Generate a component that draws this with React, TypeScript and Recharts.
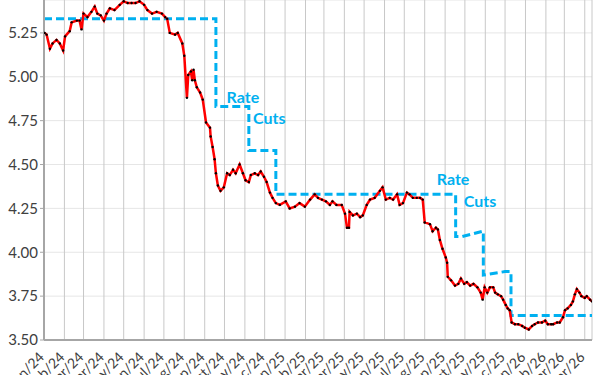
import React from 'react';
import { ComposedChart, Line, XAxis, YAxis, CartesianGrid, ReferenceDot } from 'recharts';

const START = Date.UTC(2024, 0, 1);
const toDay = (s: string) => (Date.parse(s + 'T00:00:00Z') - START) / 86400000;

const yieldDates = [
  '2024-01-02','2024-01-05','2024-01-10','2024-01-14','2024-01-20','2024-01-25','2024-01-30','2024-02-02','2024-02-09','2024-02-12',
  '2024-02-20','2024-02-24','2024-02-27','2024-03-01','2024-03-07','2024-03-13','2024-03-18','2024-03-22','2024-03-27','2024-04-01',
  '2024-04-05','2024-04-10','2024-04-17','2024-04-25','2024-05-01','2024-05-07','2024-05-13','2024-05-19','2024-05-25','2024-06-01',
  '2024-06-06','2024-06-13','2024-06-20','2024-06-28','2024-07-03','2024-07-06','2024-07-10','2024-07-18','2024-07-22','2024-07-29',
  '2024-08-01','2024-08-05','2024-08-07','2024-08-11','2024-08-13','2024-08-15','2024-08-17','2024-08-20','2024-08-25','2024-08-29',
  '2024-09-03','2024-09-09','2024-09-10','2024-09-13','2024-09-16','2024-09-18','2024-09-21','2024-09-25','2024-09-30','2024-10-05',
  '2024-10-09','2024-10-14','2024-10-18','2024-10-24','2024-10-29','2024-11-02','2024-11-07','2024-11-10','2024-11-16','2024-11-21',
  '2024-11-25','2024-11-30','2024-12-04','2024-12-09','2024-12-13','2024-12-18','2024-12-24','2025-01-02','2025-01-08','2025-01-16',
  '2025-01-23','2025-01-31','2025-02-08','2025-02-15','2025-02-20','2025-02-26','2025-03-04','2025-03-10','2025-03-14','2025-03-20',
  '2025-03-28','2025-04-02','2025-04-05','2025-04-08','2025-04-09','2025-04-14','2025-04-20','2025-04-25','2025-04-29','2025-05-05',
  '2025-05-10','2025-05-17','2025-05-25','2025-05-29','2025-06-03','2025-06-09','2025-06-14','2025-06-20','2025-06-24','2025-06-29',
  '2025-07-05','2025-07-09','2025-07-14','2025-07-20','2025-07-25','2025-07-29','2025-08-01','2025-08-09','2025-08-13','2025-08-18',
  '2025-08-21','2025-08-24','2025-08-28','2025-09-02','2025-09-04','2025-09-05','2025-09-10','2025-09-16','2025-09-21','2025-09-25',
  '2025-09-30','2025-10-04','2025-10-09','2025-10-14','2025-10-20','2025-10-25','2025-10-28','2025-10-31','2025-11-04','2025-11-08',
  '2025-11-13','2025-11-16','2025-11-20','2025-11-25','2025-11-28','2025-12-02','2025-12-05','2025-12-08','2025-12-11','2025-12-16',
  '2025-12-21','2025-12-27','2025-12-31','2026-01-06','2026-01-11','2026-01-15','2026-01-20','2026-01-26','2026-01-31','2026-02-04',
  '2026-02-09','2026-02-12','2026-02-18','2026-02-22','2026-02-27','2026-03-02','2026-03-06','2026-03-11','2026-03-14','2026-03-17',
  '2026-03-20','2026-03-24','2026-03-27','2026-04-01','2026-04-04','2026-04-09','2026-04-12',
];
const yieldValues = [
  5.25,5.24,5.16,5.19,5.21,5.19,5.15,5.23,5.26,5.31,
  5.32,5.32,5.27,5.36,5.34,5.37,5.40,5.36,5.35,5.32,
  5.36,5.39,5.38,5.41,5.43,5.42,5.42,5.42,5.43,5.41,
  5.38,5.36,5.37,5.36,5.34,5.33,5.25,5.24,5.25,5.19,
  5.12,4.88,5.01,5.03,4.98,5.04,4.98,4.94,4.91,4.87,
  4.74,4.71,4.66,4.60,4.53,4.45,4.38,4.35,4.37,4.45,
  4.44,4.47,4.45,4.50,4.45,4.41,4.40,4.44,4.45,4.44,
  4.46,4.43,4.40,4.34,4.31,4.28,4.27,4.29,4.25,4.26,
  4.28,4.26,4.30,4.33,4.31,4.30,4.29,4.27,4.29,4.27,
  4.27,4.22,4.14,4.14,4.23,4.21,4.22,4.20,4.21,4.27,
  4.30,4.31,4.35,4.37,4.30,4.31,4.30,4.33,4.27,4.28,
  4.34,4.33,4.31,4.31,4.31,4.30,4.17,4.16,4.12,4.14,
  4.13,4.07,4.02,3.97,3.94,3.86,3.84,3.81,3.82,3.85,
  3.82,3.83,3.81,3.82,3.80,3.77,3.73,3.80,3.77,3.80,
  3.80,3.77,3.76,3.75,3.73,3.70,3.68,3.67,3.60,3.59,
  3.59,3.58,3.57,3.56,3.58,3.59,3.60,3.60,3.61,3.59,
  3.59,3.59,3.60,3.60,3.63,3.67,3.68,3.70,3.72,3.76,
  3.79,3.77,3.75,3.74,3.75,3.73,3.72,
];

const rateDates = [
  '2024-01-01','2024-09-18','2024-09-18','2024-11-07','2024-11-07','2024-12-18','2024-12-18','2025-09-17',
  '2025-09-17','2025-09-27','2025-10-28','2025-10-29','2025-10-29','2025-12-01','2025-12-10','2025-12-10','2026-04-12',
];
const rateValues = [
  5.33,5.33,4.83,4.83,4.58,4.58,4.33,4.33,
  4.09,4.09,4.12,4.12,3.87,3.89,3.89,3.64,3.64,
];

const tickLabels = [
  'Jan/24','Feb/24','Mar/24','Apr/24','May/24','Jun/24','Jul/24','Aug/24','Sep/24','Oct/24','Nov/24','Dec/24',
  'Jan/25','Feb/25','Mar/25','Apr/25','May/25','Jun/25','Jul/25','Aug/25','Sep/25','Oct/25','Nov/25','Dec/25',
  'Jan/26','Feb/26','Mar/26','Apr/26',
];
const monthNames = ['Jan','Feb','Mar','Apr','May','Jun','Jul','Aug','Sep','Oct','Nov','Dec'];
const yTicks = [3.5, 3.75, 4.0, 4.25, 4.5, 4.75, 5.0, 5.25];

const annotations = [
  { text: 'Rate', date: '2024-10-29', value: 4.885 },
  { text: 'Cuts', date: '2024-12-08', value: 4.765 },
  { text: 'Rate', date: '2025-09-13', value: 4.417 },
  { text: 'Cuts', date: '2025-10-24', value: 4.292 },
];

const yieldData = yieldDates.map((d, i) => ({ day: toDay(d), v: yieldValues[i] }));
const rateData = rateDates.map((d, i) => ({ day: toDay(d), r: rateValues[i] }));
const tickDays = tickLabels.map((l) => {
  const [m, y] = l.split('/');
  return (Date.UTC(2000 + Number(y), monthNames.indexOf(m), 1) - START) / 86400000;
});
const labelByDay: Record<number, string> = {};
tickDays.forEach((d, i) => { labelByDay[d] = tickLabels[i]; });

const FONT = 'Lato, "Open Sans", sans-serif';

const XTick = (props: any) => {
  const { x, y, payload } = props;
  return (
    <g transform={`translate(${x},${y})`}>
      <text x={1} y={10} transform="rotate(-45, 1, 10)" textAnchor="end" fill="#404040" fontSize={14} fontFamily={FONT}>
        {labelByDay[payload.value]}
      </text>
    </g>
  );
};

const Dot = (props: any) => {
  const { cx, cy, index } = props;
  return <circle key={index} cx={cx} cy={cy} r={1.2} fill="#000" />;
};

export default function App() {
  return (
    <div style={{ position: 'absolute', left: 0, top: 0, width: 600, height: 375, background: '#fff' }}>
      <ComposedChart width={600} height={375} margin={{ top: 0, right: 8, bottom: 0, left: 0 }}>
        <CartesianGrid horizontal={true} vertical={false} stroke="#e6e6e6" strokeWidth={1} />
        <CartesianGrid horizontal={false} vertical={true} stroke="#c8c8c8" strokeWidth={1} />
        <XAxis
          type="number"
          dataKey="day"
          domain={[0, 832]}
          ticks={tickDays}
          interval={0}
          tick={<XTick />}
          tickLine={false}
          axisLine={{ stroke: '#a6a6a6', strokeWidth: 2 }}
          height={35}
          allowDataOverflow
        />
        <YAxis
          type="number"
          domain={[3.5, 5.4375]}
          ticks={yTicks}
          allowDataOverflow
          width={44}
          tickSize={4}
          tickLine={{ stroke: '#a6a6a6' }}
          axisLine={{ stroke: '#a6a6a6', strokeWidth: 2 }}
          tickFormatter={(v: number) => v.toFixed(2)}
          tick={{ fill: '#404040', fontSize: 15, fontFamily: FONT }}
        />
        <Line
          data={rateData}
          dataKey="r"
          type="linear"
          stroke="#00B0F0"
          strokeWidth={3}
          strokeDasharray="8 4"
          dot={false}
          isAnimationActive={false}
        />
        <Line
          data={yieldData}
          dataKey="v"
          type="linear"
          stroke="#FF0000"
          strokeWidth={2.5}
          dot={<Dot />}
          isAnimationActive={false}
        />
        {annotations.map((a, i) => (
          <ReferenceDot
            key={i}
            x={toDay(a.date)}
            y={a.value}
            r={0}
            fill="none"
            stroke="none"
            label={{ value: a.text, position: 'center', fill: '#00B0F0', fontSize: 16, fontWeight: 'bold', fontFamily: FONT }}
          />
        ))}
      </ComposedChart>
    </div>
  );
}
